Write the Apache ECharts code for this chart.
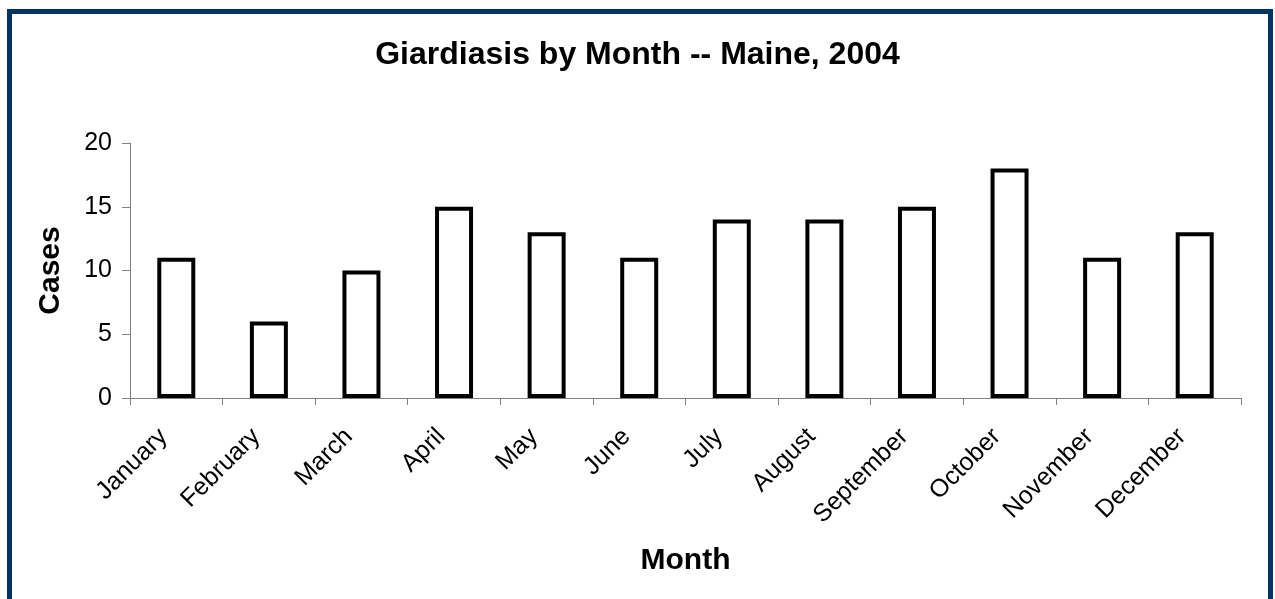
<!DOCTYPE html>
<html>
<head>
<meta charset="utf-8">
<script src="https://cdn.jsdelivr.net/npm/echarts@6/dist/echarts.min.js"></script>
<style>
html, body { margin: 0; padding: 0; background: #fff; }
#main { width: 1275px; height: 599px; }
</style>
</head>
<body>
<div id="main"></div>
<script>
var months = ['January', 'February', 'March', 'April', 'May', 'June', 'July',
    'August', 'September', 'October', 'November', 'December'];
var cases = [11, 6, 10, 15, 13, 11, 14, 14, 15, 18, 11, 13];

var chartDom = document.getElementById('main');
var myChart = echarts.init(chartDom);
var font = 'Arial, "Liberation Sans", sans-serif';

var option = {
    backgroundColor: '#fff',
    animation: false,
    title: {
        text: 'Giardiasis by Month -- Maine, 2004',
        left: 'center',
        top: 34,
        textStyle: { fontFamily: font, fontSize: 32, fontWeight: 'bold', color: '#000' }
    },
    // navy frame around the chart
    graphic: [{
        type: 'rect',
        shape: { x: 9.5, y: 11.5, width: 1261, height: 620 },
        style: { fill: 'none', stroke: '#003366', lineWidth: 5 },
        silent: true
    }],
    grid: { left: 130, right: 34, top: 143, bottom: 201 },
    xAxis: {
        type: 'category',
        data: months,
        name: 'Month',
        nameLocation: 'middle',
        nameGap: 148,
        nameTextStyle: { fontFamily: font, fontSize: 30, fontWeight: 'bold', color: '#000' },
        axisLine: { lineStyle: { color: '#808080', width: 1 } },
        axisTick: { show: true, length: 7, alignWithLabel: false, lineStyle: { color: '#808080' } },
        axisLabel: {
            rotate: 45, fontFamily: font, fontSize: 25, color: '#000',
            margin: 22, padding: [0, 18, 0, 0]
        }
    },
    yAxis: {
        type: 'value',
        min: 0,
        max: 20,
        interval: 5,
        name: 'Cases',
        nameLocation: 'middle',
        nameGap: 64,
        nameTextStyle: { fontFamily: font, fontSize: 30, fontWeight: 'bold', color: '#000' },
        axisLine: { show: true, lineStyle: { color: '#808080', width: 1 } },
        axisTick: { show: true, inside: false, length: 8, lineStyle: { color: '#808080' } },
        splitLine: { show: false },
        axisLabel: { fontFamily: font, fontSize: 25, color: '#000', margin: 18 }
    },
    series: [{
        type: 'bar',
        data: cases,
        barWidth: 38,
        itemStyle: { color: '#fff', borderColor: '#000', borderWidth: 4 }
    }]
};

option && myChart.setOption(option);
</script>
</body>
</html>
